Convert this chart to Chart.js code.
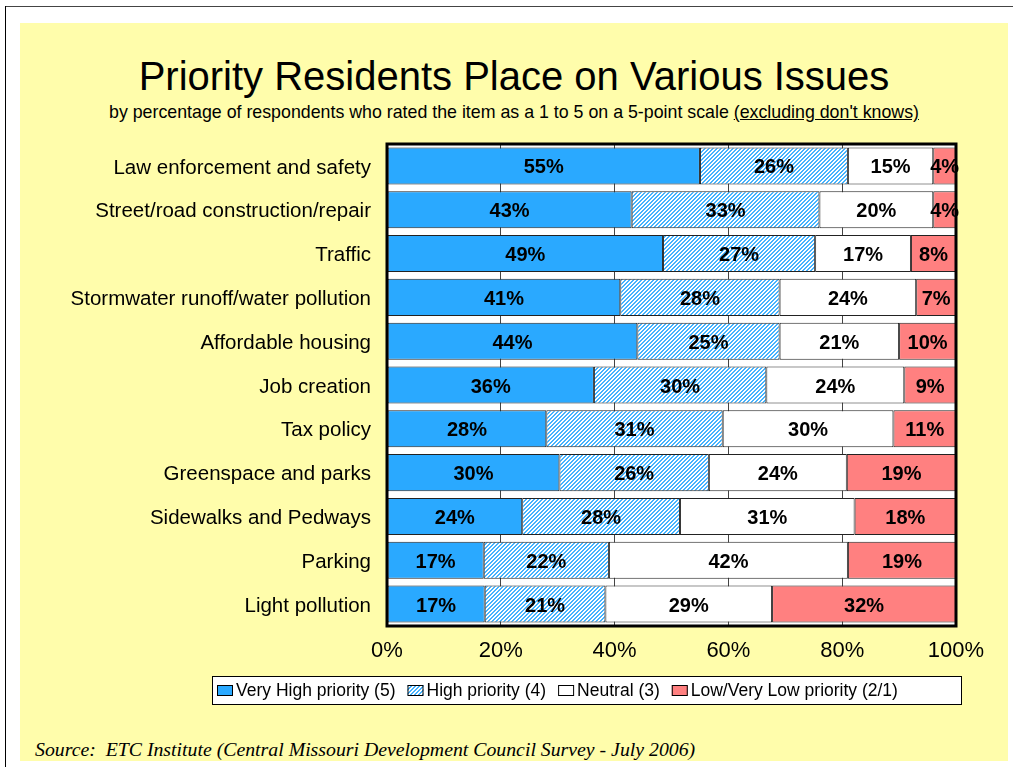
<!DOCTYPE html>
<html>
<head>
<meta charset="utf-8">
<script src="https://cdn.jsdelivr.net/npm/chart.js@4.4.1/dist/chart.umd.min.js"></script>
<style>
  body { margin: 0; background: #fff; }
  #page { position: relative; width: 1013px; height: 767px; overflow: hidden; font-family: "Liberation Sans", Arial, sans-serif; }
  #frameTop { position: absolute; left: 5px; top: 6px; width: 1008px; height: 1px; background: #444; }
  #frameLeft { position: absolute; left: 5px; top: 6px; width: 1px; height: 761px; background: #000; }
  #bg { position: absolute; left: 20px; top: 23px; width: 988px; height: 738px; background: #FFFDAB; }
  #title { position: absolute; left: 20px; width: 988px; top: 56px; text-align: center; font-size: 40px; line-height: 40px; color: #000; }
  #subtitle { position: absolute; left: 20px; width: 988px; top: 103px; text-align: center; font-size: 17.8px; line-height: 18px; color: #000; }
  #source { position: absolute; left: 35px; top: 739px; font-family: "Liberation Serif", "Times New Roman", serif; font-style: italic; font-size: 19.8px; line-height: 20px; color: #000; white-space: pre; }
  canvas { position: absolute; left: 0; top: 0; }
</style>
</head>
<body>
<div id="page">
  <div id="frameTop"></div>
  <div id="frameLeft"></div>
  <div id="bg"></div>
  <div id="title">Priority Residents Place on Various Issues</div>
  <div id="subtitle">by percentage of respondents who rated the item as a 1 to 5 on a 5-point scale <u>(excluding don't knows)</u></div>
  <div id="source">Source:  ETC Institute (Central Missouri Development Council Survey - July 2006)</div>
  <canvas id="chart" width="1013" height="767"></canvas>
</div>
<script>
// categorias y valores (%)
const categories = [
  "Law enforcement and safety",
  "Street/road construction/repair",
  "Traffic",
  "Stormwater runoff/water pollution",
  "Affordable housing",
  "Job creation",
  "Tax policy",
  "Greenspace and parks",
  "Sidewalks and Pedways",
  "Parking",
  "Light pollution"
];
const veryHigh = [55, 43, 49, 41, 44, 36, 28, 30, 24, 17, 17];
const high     = [26, 33, 27, 28, 25, 30, 31, 26, 28, 22, 21];
const neutral  = [15, 20, 17, 24, 21, 24, 30, 24, 31, 42, 29];
const low      = [4, 4, 8, 7, 10, 9, 11, 19, 18, 19, 32];
const seriesLabels = ["Very High priority (5)", "High priority (4)", "Neutral (3)", "Low/Very Low priority (2/1)"];
const xTicks = [0, 20, 40, 60, 80, 100];

// 100% apilado, como en Excel
const rows = [veryHigh, high, neutral, low];
const totals = categories.map((c, i) => rows.reduce((s, r) => s + r[i], 0));
const share = arr => arr.map((v, i) => v / totals[i] * 100);

// trama diagonal para "High priority"
function hatch() {
  const c = document.createElement("canvas");
  c.width = 4; c.height = 4;
  const g = c.getContext("2d");
  g.fillStyle = "#ffffff";
  g.fillRect(0, 0, 4, 4);
  g.fillStyle = "#45B3FF";
  for (let x = 0; x < 4; x++) {
    for (let y = 0; y < 4; y++) {
      if ((x + y) % 4 < 2) g.fillRect(x, y, 1, 1);
    }
  }
  return g.createPattern(c, "repeat");
}

const colors = ["#2AA9FF", hatch(), "#FFFFFF", "#FF8080"];

const plotBg = {
  id: "plotBg",
  beforeDraw(chart) {
    const { ctx, chartArea: a } = chart;
    ctx.save();
    ctx.fillStyle = "#fff";
    ctx.fillRect(a.left, a.top, a.right - a.left, a.bottom - a.top);
    ctx.restore();
  }
};

const valueLabels = {
  id: "valueLabels",
  afterDatasetsDraw(chart) {
    const { ctx, chartArea: a } = chart;
    ctx.save();
    // marco del area
    ctx.strokeStyle = "#000";
    ctx.lineWidth = 3;
    ctx.strokeRect(a.left, a.top, a.right - a.left, a.bottom - a.top);

    ctx.font = "bold 20px 'Liberation Sans', Arial, sans-serif";
    ctx.fillStyle = "#000";
    ctx.textAlign = "center";
    ctx.textBaseline = "middle";
    chart.data.datasets.forEach((ds, di) => {
      chart.getDatasetMeta(di).data.forEach((el, i) => {
        ctx.fillText(rows[di][i] + "%", (el.x + el.base) / 2, el.y + 2);
      });
    });
    ctx.restore();
  }
};

const boxLegend = {
  id: "boxLegend",
  afterDraw(chart) {
    const ctx = chart.ctx;
    ctx.save();
    ctx.fillStyle = "#fff";
    ctx.fillRect(212, 676, 749, 28);
    ctx.strokeStyle = "#000";
    ctx.lineWidth = 1;
    ctx.strokeRect(212.5, 676.5, 749, 28);
    ctx.font = "17.5px 'Liberation Sans', Arial, sans-serif";
    ctx.textBaseline = "middle";
    let x = 217;
    chart.data.datasets.forEach(ds => {
      ctx.fillStyle = ds.backgroundColor;
      ctx.fillRect(x, 685, 16, 11);
      ctx.strokeStyle = "#000";
      ctx.strokeRect(x + 0.5, 685.5, 15, 10);
      ctx.fillStyle = "#000";
      ctx.fillText(ds.label, x + 19, 691);
      x += 19 + ctx.measureText(ds.label).width + 12;
    });
    ctx.restore();
  }
};

new Chart(document.getElementById("chart"), {
  type: "bar",
  data: {
    labels: categories,
    datasets: rows.map((r, k) => ({
      label: seriesLabels[k],
      data: share(r),
      backgroundColor: colors[k],
      borderColor: "#222",
      borderWidth: 1,
      borderSkipped: false,
      barPercentage: 0.845,
      categoryPercentage: 1
    }))
  },
  options: {
    indexAxis: "y",
    responsive: false,
    animation: false,
    layout: { padding: { top: 144, right: 57, bottom: 91, left: 0 } },
    plugins: {
      legend: { display: false },
      tooltip: { enabled: false }
    },
    scales: {
      x: {
        stacked: true,
        min: 0,
        max: 100,
        afterBuildTicks: axis => { axis.ticks = xTicks.map(v => ({ value: v })); },
        afterFit: axis => { axis.height = 50; },
        ticks: {
          callback: v => v + "%",
          color: "#000",
          padding: 12,
          maxRotation: 0,
          font: { family: "'Liberation Sans', Arial, sans-serif", size: 22 }
        },
        grid: { color: "#444", drawTicks: false },
        border: { display: false }
      },
      y: {
        stacked: true,
        afterFit: axis => { axis.width = 387; },
        ticks: {
          color: "#000",
          padding: 16,
          labelOffset: 2,
          font: { family: "'Liberation Sans', Arial, sans-serif", size: 20.5 }
        },
        grid: { display: false, drawTicks: false },
        border: { display: false }
      }
    }
  },
  plugins: [plotBg, valueLabels, boxLegend]
});
</script>
</body>
</html>
